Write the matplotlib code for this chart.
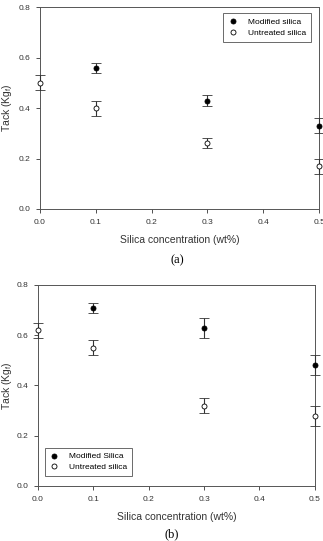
import matplotlib
matplotlib.use('Agg')
import matplotlib.pyplot as plt
from matplotlib.lines import Line2D

plt.rcParams['font.family'] = ['Liberation Sans', 'DejaVu Sans']

# panel (a)
conc_a = [0.0, 0.1, 0.3, 0.5]
mod_a = [0.50, 0.56, 0.43, 0.33]
mod_a_err = [0.03, 0.02, 0.02, 0.03]
unt_a = [0.50, 0.40, 0.26, 0.17]
unt_a_err = [0.03, 0.03, 0.02, 0.03]

# panel (b)
conc_b = [0.1, 0.3, 0.5]
mod_b = [0.71, 0.63, 0.48]
mod_b_err = [0.02, 0.04, 0.04]
conc_b_unt = [0.0, 0.1, 0.3, 0.5]
unt_b = [0.62, 0.55, 0.32, 0.28]
unt_b_err = [0.03, 0.03, 0.03, 0.04]

xticks = [0.0, 0.1, 0.2, 0.3, 0.4, 0.5]
yticks = [0.0, 0.2, 0.4, 0.6, 0.8]


def draw_panel(ax, xm, ym, em, xu, yu, eu, labels, loc, anchor, ypad):
    err_style = dict(ecolor='#333333', elinewidth=0.8, capsize=3.5, capthick=0.8,
                     linestyle='none', clip_on=False)
    ax.errorbar(xm, ym, yerr=em, marker='o', markersize=3.6, mfc='black', mec='black',
                mew=0.6, zorder=3, **err_style)
    ax.errorbar(xu, yu, yerr=eu, marker='o', markersize=3.6, mfc='white', mec='black',
                mew=0.6, zorder=4, **err_style)
    ax.set_xlim(0.0, 0.5)
    ax.set_ylim(0.0, 0.8)
    ax.set_xticks(xticks)
    ax.set_yticks(yticks)
    ax.set_xticklabels(['%.1f' % t for t in xticks])
    ax.set_yticklabels(['%.1f' % t for t in yticks])
    ax.tick_params(direction='out', length=3, width=0.6, labelsize=6, pad=4,
                   colors='#333333')
    for s in ax.spines.values():
        s.set_linewidth(0.7)
        s.set_color('#555555')
    ax.set_xlabel('Silica concentration (wt%)', fontsize=7.5, labelpad=7, color='#333333')
    ax.set_ylabel('Tack (Kg$_\\mathregular{f}$)', fontsize=7.5, labelpad=ypad, color='#333333')
    handles = [Line2D([], [], linestyle='none', marker='o', markersize=3.6,
                      mfc='black', mec='black', mew=0.6),
               Line2D([], [], linestyle='none', marker='o', markersize=3.6,
                      mfc='white', mec='black', mew=0.6)]
    leg = ax.legend(handles, labels, loc=loc, bbox_to_anchor=anchor, fontsize=6,
                    frameon=True, fancybox=False, edgecolor='#444444',
                    handlelength=1.0, handletextpad=1.3, borderpad=0.6,
                    labelspacing=0.3, numpoints=1)
    leg.get_frame().set_linewidth(0.7)


fig = plt.figure(figsize=(3.23, 5.41), dpi=100)
ax1 = fig.add_axes([0.124, 0.6137, 0.864, 0.373])
ax2 = fig.add_axes([0.1176, 0.1017, 0.857, 0.3715])

draw_panel(ax1, conc_a[1:], mod_a[1:], mod_a_err[1:], conc_a, unt_a, unt_a_err,
           ['Modified silica', 'Untreated silica'], 'upper right', (0.985, 0.99), 3)
draw_panel(ax2, conc_b, mod_b, mod_b_err, conc_b_unt, unt_b, unt_b_err,
           ['Modified Silica', 'Untreated silica'], 'lower left', (0.01, 0.03), 1.5)

fig.text(0.55, 1 - 260 / 541, '(a)', ha='center', va='center', fontsize=9,
         family='Liberation Serif')
fig.text(0.53, 1 - 534 / 541, '(b)', ha='center', va='center', fontsize=9,
         family='Liberation Serif')

fig.savefig('out.png', dpi=100)
